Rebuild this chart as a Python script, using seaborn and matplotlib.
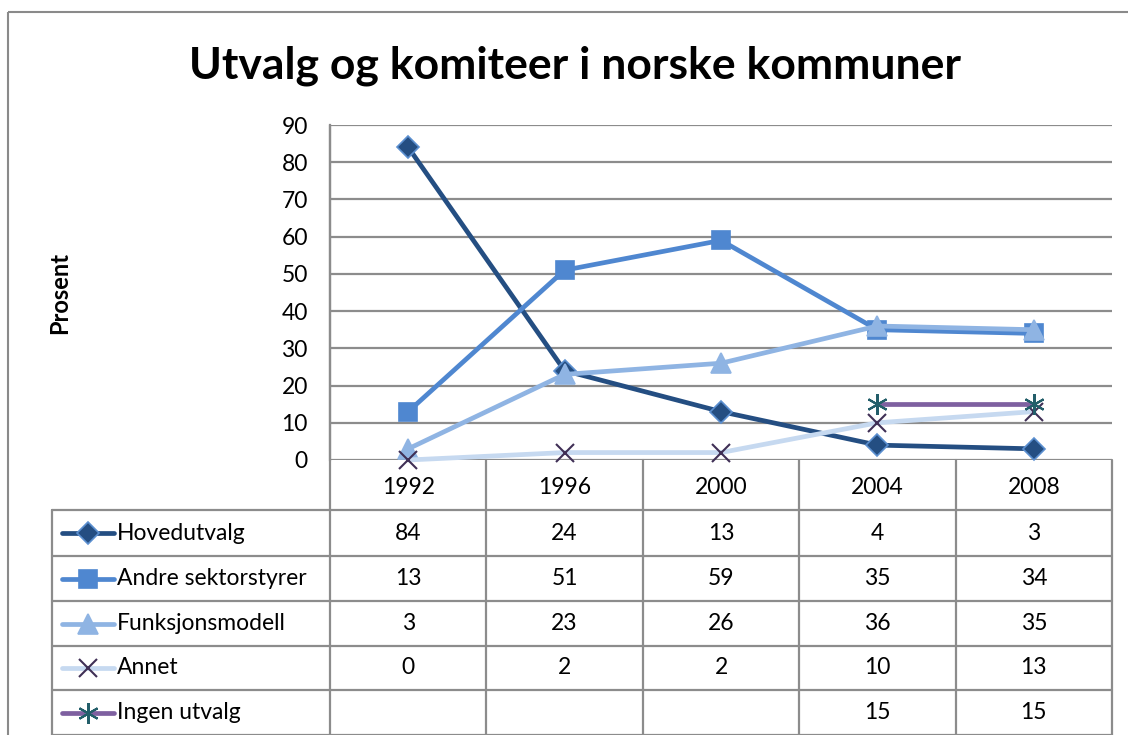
import matplotlib
matplotlib.use("Agg")
import matplotlib.pyplot as plt
from matplotlib.patches import Rectangle
import numpy as np
import pandas as pd
import seaborn as sns

# data
years = ["1992", "1996", "2000", "2004", "2008"]
series_names = ["Hovedutvalg", "Andre sektorstyrer", "Funksjonsmodell", "Annet", "Ingen utvalg"]
hovedutvalg = [84, 24, 13, 4, 3]
andre_sektorstyrer = [13, 51, 59, 35, 34]
funksjonsmodell = [3, 23, 26, 36, 35]
annet = [0, 2, 2, 10, 13]
ingen_utvalg = [np.nan, np.nan, np.nan, 15, 15]

values = [hovedutvalg, andre_sektorstyrer, funksjonsmodell, annet, ingen_utvalg]

# line colour, marker, marker face, marker edge, marker size
styles = [
    ("#244E82", "D", "#244E82", "#5B8FD0", 11),
    ("#4F87D0", "s", "#4F87D0", "#4F87D0", 13),
    ("#8FB4E3", "^", "#8FB4E3", "#8FB4E3", 14),
    ("#C6D9F0", "x", "#3F2F55", "#3F2F55", 13),
    ("#7E60A0", (6, 2, 0), "#235E6A", "#235E6A", 15),
]

df = pd.DataFrame({
    "year": np.tile(np.arange(len(years)), len(series_names)),
    "series": np.repeat(series_names, len(years)),
    "value": np.concatenate(values),
})

sns.set_style("white")
plt.rcParams["font.family"] = ["Lato", "DejaVu Sans"]
plt.rcParams["text.color"] = "black"
plt.rcParams["ytick.color"] = "black"

W, H = 1128, 735
fig = plt.figure(figsize=(W / 100, H / 100), dpi=100)

# layout in pixels
plot_l, plot_r, plot_t, plot_b = 330, 1112, 125, 460
tab_l, tab_b = 52, 735
row_edges = [460, 510, 556, 601, 646, 690, 735]
grey = "#8C8C8C"
fs = 16.5

ax = fig.add_axes([plot_l / W, 1 - plot_b / H, (plot_r - plot_l) / W, (plot_b - plot_t) / H])
for name, (color, marker, mfc, mec, ms) in zip(series_names, styles):
    sub = df[df["series"] == name].dropna()
    sns.lineplot(data=sub, x="year", y="value", ax=ax, color=color, lw=3.4,
                 marker=marker, markersize=ms, markerfacecolor=mfc,
                 markeredgecolor=mec, markeredgewidth=1.5 if marker in ("x", (6, 2, 0)) else 1.2,
                 zorder=3, legend=False, clip_on=False)

ax.set_xlim(-0.5, len(years) - 0.5)
ax.set_ylim(0, 90)
ax.set_yticks(range(0, 91, 10))
ax.set_xticks([])
ax.set_xlabel("")
ax.set_ylabel("")
ax.yaxis.grid(True, color=grey, lw=1.6)
ax.set_axisbelow(True)
for s in ["top", "right", "bottom"]:
    ax.spines[s].set_visible(False)
ax.spines["left"].set_color(grey)
ax.spines["left"].set_linewidth(1.6)
ax.tick_params(axis="y", length=0, labelsize=fs, pad=16, labelcolor="black")
ax.patch.set_alpha(0)

# overlay in pixel coordinates for frame, axis title and data table
ov = fig.add_axes([0, 0, 1, 1], zorder=-1)
ov.set_xlim(0, W)
ov.set_ylim(H, 0)
ov.axis("off")
ov.add_patch(Rectangle((8, 12), W + 20, H + 20, fill=False, ec="#8A8A8A", lw=1.5))

fig.text(575 / W, 1 - 66 / H, "Utvalg og komiteer i norske kommuner",
         ha="center", va="center", fontsize=32, fontweight="bold", color="black")
fig.text(60 / W, 1 - 293 / H, "Prosent", rotation=90, ha="center", va="center",
         fontsize=17, fontweight="bold", color="black")

tab = fig.add_axes([0, 0, 1, 1], zorder=2)
tab.set_xlim(0, W)
tab.set_ylim(H, 0)
tab.axis("off")

n = len(years)
col_w = (plot_r - plot_l) / n
col_edges = [plot_l + i * col_w for i in range(n + 1)]
centers = [plot_l + (i + 0.5) * col_w for i in range(n)]

# grid lines of the table
tab.plot([plot_l, plot_l], [plot_t, tab_b], color=grey, lw=1.6)
for xe in col_edges[1:]:
    tab.plot([xe, xe], [row_edges[0], tab_b], color=grey, lw=1.6)
tab.plot([tab_l, tab_l], [row_edges[1], tab_b], color=grey, lw=1.6)
for ye in row_edges[1:]:
    tab.plot([tab_l, plot_r], [ye, ye], color=grey, lw=1.6)

for xc, yr in zip(centers, years):
    tab.text(xc, (row_edges[0] + row_edges[1]) / 2 + 2, yr, ha="center", va="center",
             fontsize=fs, color="black")

for r, (name, vals, (color, marker, mfc, mec, ms)) in enumerate(zip(series_names, values, styles)):
    yc = (row_edges[r + 1] + row_edges[r + 2]) / 2
    tab.plot([62, 114], [yc, yc], color=color, lw=3.4, solid_capstyle="round")
    tab.plot([88], [yc], marker=marker, markersize=ms, markerfacecolor=mfc,
             markeredgecolor=mec, markeredgewidth=1.5 if marker in ("x", (6, 2, 0)) else 1.2,
             ls="none")
    tab.text(117, yc, name, ha="left", va="center", fontsize=fs, color="black")
    for xc, v in zip(centers, vals):
        if not np.isnan(v):
            tab.text(xc, yc, f"{int(v)}", ha="center", va="center", fontsize=fs, color="black")

fig.savefig("out.png", dpi=100)
